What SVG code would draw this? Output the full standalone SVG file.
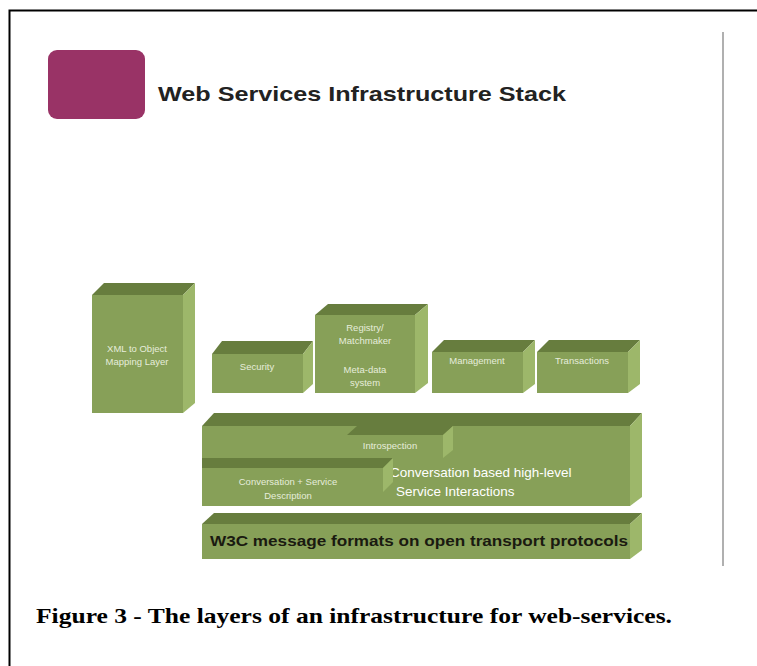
<svg xmlns="http://www.w3.org/2000/svg" width="757" height="666" viewBox="0 0 757 666">
<style>
.front{fill:#87a058}
.top{fill:#677d3e}
.side{fill:#9db76a}
.lbl{font-family:"Liberation Sans",Arial,sans-serif;font-size:9.5px;fill:#e6eddb;text-anchor:middle}
.big{font-family:"Liberation Sans",Arial,sans-serif;font-size:13.5px;fill:#ffffff}
</style>
<rect x="0" y="0" width="757" height="666" fill="#ffffff"/>
<path d="M757 10.5 H9.5 V666" fill="none" stroke="#000" stroke-width="2"/>
<line x1="723" y1="32" x2="723" y2="566" stroke="#b0b0b0" stroke-width="2"/>
<g id="title">
<rect x="48" y="50" width="97" height="69" rx="9" fill="#993366"/>
<text x="158" y="101" font-family="'Liberation Sans',Arial,sans-serif" font-size="21" font-weight="bold" fill="#222" textLength="408" lengthAdjust="spacingAndGlyphs">Web Services Infrastructure Stack</text>
</g>
<g id="xml-mapping">
<polygon class="top" points="92,295 183,295 195,283 104,283"/>
<polygon class="side" points="183,295 195,283 195,403 183,413"/>
<rect class="front" x="92" y="295" width="91" height="118"/>
<text class="lbl" x="137" y="352">XML to Object</text>
<text class="lbl" x="137" y="365">Mapping Layer</text>
</g>
<g id="security">
<polygon class="top" points="212,354 303,354 313,341 222,341"/>
<polygon class="side" points="303,354 313,341 313,384 303,393"/>
<rect class="front" x="212" y="354" width="91" height="39"/>
<text class="lbl" x="257" y="370">Security</text>
</g>
<g id="registry">
<polygon class="top" points="315,315 415,315 428,304 328,304"/>
<polygon class="side" points="415,315 428,304 428,383 415,393"/>
<rect class="front" x="315" y="315" width="100" height="78"/>
<text class="lbl" x="365" y="331">Registry/</text>
<text class="lbl" x="365" y="344">Matchmaker</text>
<text class="lbl" x="365" y="373">Meta-data</text>
<text class="lbl" x="365" y="386">system</text>
</g>
<g id="management">
<polygon class="top" points="432,352 523,352 535,340 444,340"/>
<polygon class="side" points="523,352 535,340 535,384 523,393"/>
<rect class="front" x="432" y="352" width="91" height="41"/>
<text class="lbl" x="477" y="364">Management</text>
</g>
<g id="transactions">
<polygon class="top" points="537,352 628,352 640,340 549,340"/>
<polygon class="side" points="628,352 640,340 640,384 628,393"/>
<rect class="front" x="537" y="352" width="91" height="41"/>
<text class="lbl" x="582" y="364">Transactions</text>
</g>
<g id="interactions">
<polygon class="top" points="202,426 630,426 642,413 214,413"/>
<polygon class="side" points="630,426 642,413 642,497 630,506"/>
<rect class="front" x="202" y="426" width="428" height="80"/>
<text class="big" x="390" y="477">Conversation based high-level</text>
<text class="big" x="396" y="496">Service Interactions</text>
</g>
<g id="introspection">
<polygon class="top" points="347,435 443,435 453,426 357,426"/>
<polygon class="side" points="443,435 453,426 453,450 443,458"/>
<text class="lbl" x="390" y="449">Introspection</text>
</g>
<g id="conversation">
<polygon class="top" points="202,468 383,468 393,458 202,458"/>
<polygon class="side" points="383,468 393,458 393,482 383,492"/>
<text class="lbl" x="288" y="485">Conversation + Service</text>
<text class="lbl" x="288" y="499">Description</text>
</g>
<g id="w3c">
<polygon class="top" points="202,524 630,524 642,513 214,513"/>
<polygon class="side" points="630,524 642,513 642,550 630,559"/>
<rect class="front" x="202" y="524" width="428" height="35"/>
<text x="210" y="546" font-family="'Liberation Sans',Arial,sans-serif" font-size="15" font-weight="bold" fill="#1a1a10" textLength="418" lengthAdjust="spacingAndGlyphs">W3C message formats on open transport protocols</text>
</g>
<g id="caption">
<text x="36" y="623" font-family="'Liberation Serif','Times New Roman',serif" font-size="21" font-weight="bold" fill="#000" textLength="636" lengthAdjust="spacingAndGlyphs">Figure 3 - The layers of an infrastructure for web-services.</text>
</g>
<g id="connectors"/>
</svg>
